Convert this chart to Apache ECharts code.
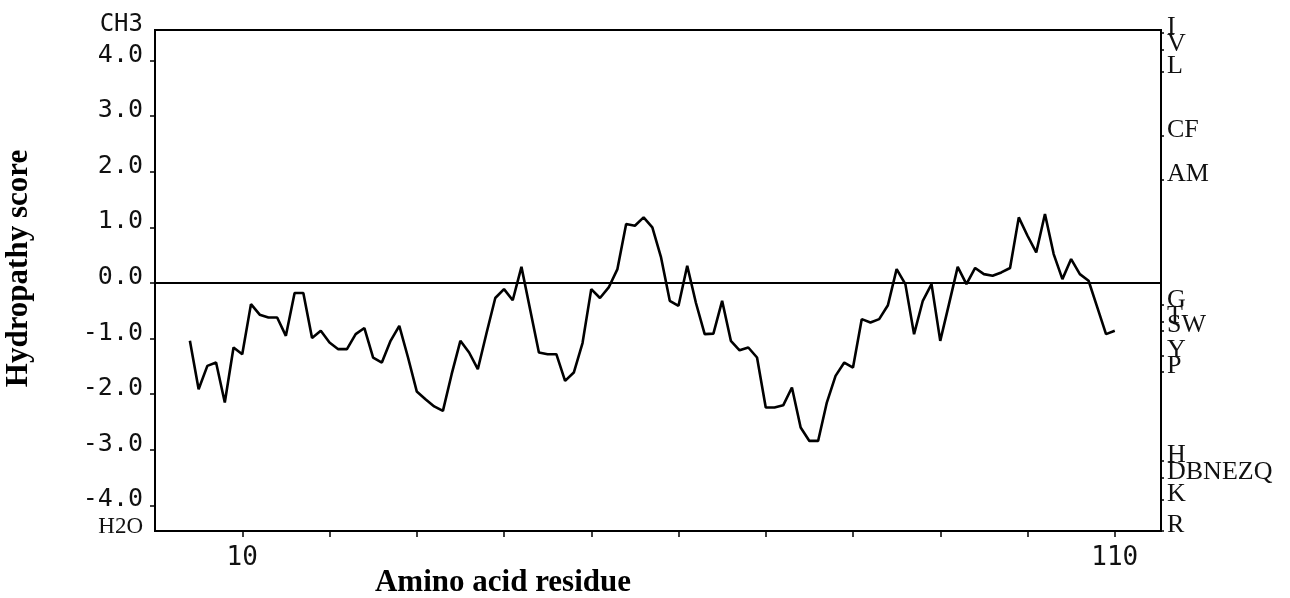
<!DOCTYPE html>
<html>
<head>
<meta charset="utf-8">
<script src="https://cdn.jsdelivr.net/npm/echarts@6/dist/echarts.min.js"></script>
<style>
  html, body { margin: 0; padding: 0; background: #fff; }
  #chart { width: 1290px; height: 598px; }
</style>
</head>
<body>
<div id="chart"></div>
<script>
// Kyte-Doolittle hydropathy profile (sliding window average per residue)
const residues = [
  4, 5, 6, 7, 8, 9, 10, 11, 12, 13, 14, 15, 16, 17, 18, 19, 20, 21, 22, 23,
  24, 25, 26, 27, 28, 29, 30, 31, 32, 33, 34, 35, 36, 37, 38, 39, 40, 41, 42, 43,
  44, 45, 46, 47, 48, 49, 50, 51, 52, 53, 54, 55, 56, 57, 58, 59, 60, 61, 62, 63,
  64, 65, 66, 67, 68, 69, 70, 71, 72, 73, 74, 75, 76, 77, 78, 79, 80, 81, 82, 83,
  84, 85, 86, 87, 88, 89, 90, 91, 92, 93, 94, 95, 96, 97, 98, 99, 100, 101, 102, 103,
  104, 105, 106, 107, 108, 109, 110
];
const scores = [
  -1.04, -1.91, -1.49, -1.43, -2.15, -1.16, -1.28, -0.38, -0.57, -0.62, -0.62, -0.95, -0.18, -0.18, -0.99, -0.86, -1.07, -1.19, -1.19, -0.92,
  -0.81, -1.34, -1.43, -1.04, -0.77, -1.34, -1.95, -2.09, -2.22, -2.30, -1.64, -1.04, -1.25, -1.55, -0.90, -0.27, -0.11, -0.31, 0.29, -0.48,
  -1.25, -1.28, -1.28, -1.76, -1.61, -1.08, -0.11, -0.27, -0.08, 0.25, 1.06, 1.03, 1.18, 1.00, 0.46, -0.32, -0.41, 0.31, -0.36, -0.92,
  -0.91, -0.32, -1.04, -1.21, -1.16, -1.34, -2.24, -2.24, -2.20, -1.88, -2.60, -2.84, -2.84, -2.15, -1.67, -1.43, -1.52, -0.65, -0.71, -0.65,
  -0.40, 0.25, -0.02, -0.92, -0.32, -0.02, -1.04, -0.38, 0.29, -0.02, 0.27, 0.16, 0.13, 0.19, 0.27, 1.18, 0.85, 0.55, 1.24, 0.52,
  0.07, 0.43, 0.16, 0.04, -0.44, -0.92, -0.86
];

// Left scale
const scoreTicks = [-4, -3, -2, -1, 0, 1, 2, 3, 4];
const scoreMin = -4.46;
const scoreMax = 4.55;
const topEndLabel = 'CH3';
const bottomEndLabel = 'H2O';

// Bottom scale
const residueMin = 0;
const residueMax = 115.3;
const residueTicks = [10, 20, 30, 40, 50, 60, 70, 80, 90, 100, 110];
const residueLabels = [10, 110];

// Right scale: amino acid letters at their hydropathy index
const aminoLetters = ['I', 'V', 'L', 'CF', 'AM', 'G', 'T', 'SW', 'Y', 'P', 'H', 'DBNEZQ', 'K', 'R'];
const aminoValues  = [4.5, 4.2, 3.8, 2.65, 1.85, -0.4, -0.7, -0.85, -1.3, -1.6, -3.2, -3.5, -3.9, -4.46];

const monoFont = '"DejaVu Sans Mono", "Liberation Mono", monospace';
const serifFont = '"Liberation Serif", "DejaVu Serif", serif';

// "V" sits on its own overlay axis: it is too close to "I" for the
// end-label overlap rule to keep both on one axis.
const overlayValues = aminoValues.filter(function (v, i) { return aminoLetters[i] === 'V'; });
const mainValues = aminoValues.filter(function (v, i) { return aminoLetters[i] !== 'V'; });

function letterFor(v) {
  const i = aminoValues.indexOf(v);
  return i >= 0 ? aminoLetters[i] : '';
}

function letterAxis(values, showLine) {
  return {
    type: 'value',
    position: 'right',
    min: scoreMin,
    max: scoreMax,
    splitLine: { show: false },
    axisLine: { show: showLine, onZero: false, lineStyle: { color: '#000', width: 2 } },
    axisTick: { show: true, customValues: values, length: 3, lineStyle: { color: '#000', width: 1.5 } },
    axisLabel: {
      customValues: values,
      showMinLabel: true,
      showMaxLabel: true,
      margin: 6,
      verticalAlign: 'bottom',
      lineHeight: 11,
      fontFamily: serifFont, fontSize: 26, color: '#111',
      formatter: letterFor
    }
  };
}

const chart = echarts.init(document.getElementById('chart'), null, { renderer: 'canvas' });

const option = {
  animation: false,
  backgroundColor: '#fff',
  grid: {
    left: 155, right: 129, top: 30, bottom: 67,
    outerBoundsMode: 'none',
    containLabel: false,
    show: true, borderColor: '#000', borderWidth: 2, backgroundColor: 'transparent'
  },
  xAxis: {
    type: 'value',
    min: residueMin,
    max: residueMax,
    splitLine: { show: false },
    axisLine: { show: true, onZero: false, lineStyle: { color: '#000', width: 2 } },
    axisTick: { show: true, customValues: residueTicks, length: 6, inside: false, lineStyle: { color: '#000', width: 1.5 } },
    axisLabel: {
      customValues: residueLabels,
      margin: 14,
      fontFamily: monoFont, fontSize: 26, color: '#111'
    },
    name: 'Amino acid residue',
    nameLocation: 'middle',
    nameGap: 36,
    nameMoveOverlap: false,
    nameTextStyle: {
      fontFamily: serifFont, fontWeight: 'bold', fontSize: 31, color: '#000',
      padding: [0, 310, 0, 0]
    }
  },
  yAxis: [
    {
      type: 'value',
      position: 'left',
      min: scoreMin,
      max: scoreMax,
      splitLine: { show: false },
      axisLine: { show: true, onZero: false, lineStyle: { color: '#000', width: 2 } },
      axisTick: { show: true, customValues: scoreTicks, length: 5, lineStyle: { color: '#000', width: 1.5 } },
      axisLabel: {
        customValues: scoreTicks.concat([scoreMin, scoreMax]),
        showMinLabel: true,
        showMaxLabel: true,
        margin: 12,
        verticalAlign: 'bottom',
        lineHeight: 11,
        fontFamily: monoFont, fontSize: 25, color: '#111',
        formatter: function (v) {
          if (v === scoreMax) return '{top|' + topEndLabel + '}';
          if (v === scoreMin) return '{bot|' + bottomEndLabel + '}';
          return v.toFixed(1);
        },
        rich: {
          top: { fontFamily: monoFont, fontSize: 24, color: '#111', lineHeight: 11 },
          bot: { fontFamily: serifFont, fontSize: 23, color: '#111', lineHeight: 8 }
        }
      },
      name: 'Hydropathy score',
      nameLocation: 'middle',
      nameRotate: 90,
      nameGap: 121,
      nameTextStyle: {
        fontFamily: serifFont, fontWeight: 'bold', fontSize: 31, color: '#000',
        padding: [0, 0, 0, 24]
      }
    },
    letterAxis(mainValues, true),
    letterAxis(overlayValues, false)
  ],
  series: [
    {
      type: 'line',
      xAxisIndex: 0,
      yAxisIndex: 0,
      data: residues.map(function (r, i) { return [r, scores[i]]; }),
      showSymbol: false,
      symbol: 'none',
      lineStyle: { color: '#000', width: 2.6 },
      itemStyle: { color: '#000' },
      markLine: {
        silent: true,
        symbol: ['none', 'none'],
        label: { show: false },
        lineStyle: { color: '#000', width: 2.2, type: 'solid' },
        data: [{ yAxis: 0 }]
      }
    }
  ]
};

chart.setOption(option);
</script>
</body>
</html>
